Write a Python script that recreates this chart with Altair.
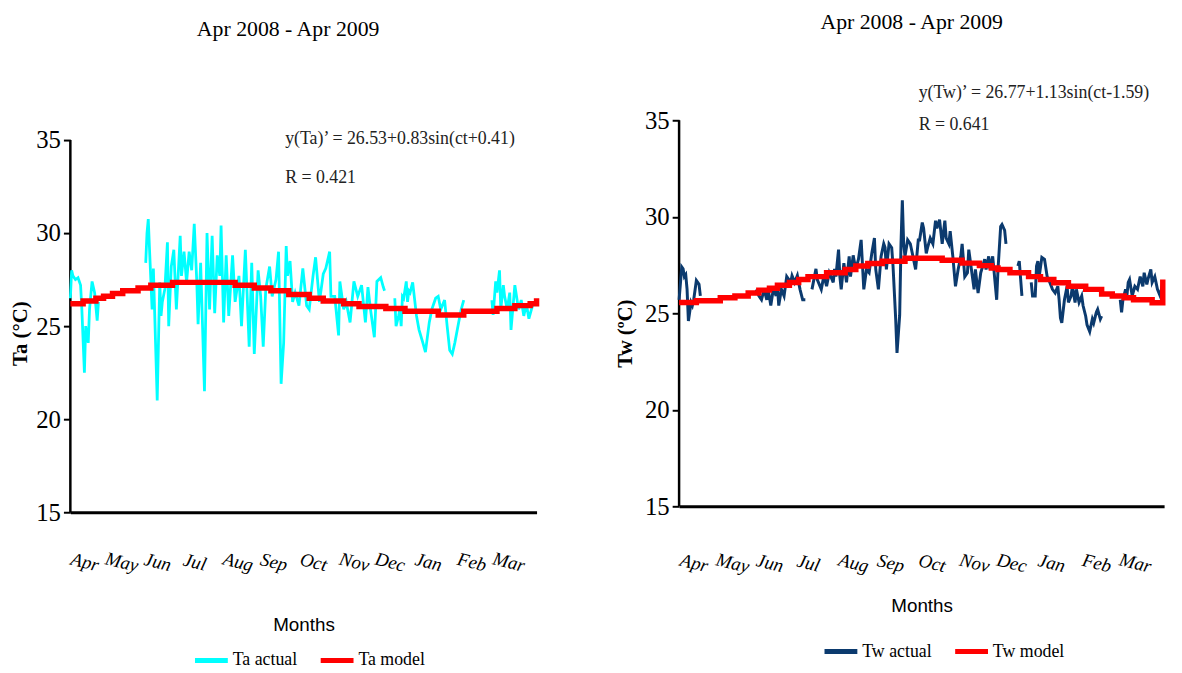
import altair as alt
import pandas as pd

# ---------------- data ----------------
months = ["Apr", "May", "Jun", "Jul", "Aug", "Sep", "Oct", "Nov", "Dec", "Jan", "Feb", "Mar"]
month_tick_days = [11, 40, 68, 97, 131, 159, 190, 222, 250, 280, 314, 343]
y_ticks = [15, 20, 25, 30, 35]

# Air temperature (Ta), day index from 1 Apr 2008; None = missing record
ta_days = [0, 1, 2, 4, 6, 8, 9, 11, 12, 14, 15, 17, 19, 21, 22, 23,
           59, 60, 61, 62, 63, 64, 65, 68, 70, 71, 72, 74, 76, 77, 79, 81, 83, 86, 87, 89, 91, 93, 95, 97,
           99, 100, 102, 105, 107, 109, 111, 113, 115, 117, 118, 120, 122, 124, 127, 129, 132, 134, 137,
           140, 142, 144, 147, 149, 151, 153, 156, 158, 161, 163, 165, 167, 169, 170, 172, 174, 176, 179,
           182, 185, 187, 190, 192, 195, 198, 200, 203, 204, 207, 210, 211, 214, 216, 219, 222, 225, 228,
           231, 233, 235, 238, 240, 243, 245, 246, 247,
           254, 255, 257, 258, 259, 260, 261, 263, 264, 265, 266, 268, 271, 273, 276, 278, 281, 283, 286,
           288, 290, 293, 295, 297, 299, 301, 304, 306, 308, 309,
           330, 331, 333, 334, 336, 337, 339, 340, 342, 344, 345, 348, 350, 351, 353, 355, 357, 359, 361, 363]
ta_vals = [26.5, 28.0, 27.7, 27.5, 27.6, 27.2, 25.9, 22.5, 25.0, 24.1, 25.9, 27.4, 26.8, 25.3, 26.3, None,
           28.4, 30.0, 30.75, 29.1, 27.5, 25.9, 28.1, 21.0, 27.35, 25.55, 26.3, 27.0, 29.5, 25.0, 28.2, 29.1, 25.9, 29.85, 27.7, 29.0, 27.35, 29.0, 28.0, 30.5,
           27.35, 25.1, 28.4, 21.5, 30.0, 25.9, 29.85, 25.7, 28.8, 27.7, 30.4, 25.2, 28.8, 25.55, 28.8, 26.3, 27.7, 25.0, 29.1,
           23.9, 28.4, 23.5, 28.0, 26.6, 23.9, 27.0, 28.2, 26.6, 27.5, 29.0, 21.9, 24.1, 29.3, 27.7, 28.5, 26.3, 26.8, 26.1,
           28.1, 26.1, 25.9, 27.7, 28.7, 26.3, 27.8, 28.1, 29.0, 26.6, 26.6, 24.5, 27.4, 25.9, 26.3, 25.2, 27.4, 26.6, 27.2,
           25.2, 27.1, 25.9, 24.4, 27.4, 27.6, 27.1, 26.9, None,
           26.5, 25.0, 25.55, 25.9, 25.0, 26.6, 26.5, 27.4, 26.3, 26.9, 26.8, 27.35, 25.55, 24.8, 24.1, 23.6, 25.2, 25.9, 26.5,
           26.6, 25.9, 26.4, 25.0, 23.7, 23.5, 24.1, 25.2, 25.9, 26.4, None,
           26.4, 25.6, 27.4, 26.8, 28.0, 25.9, 27.2, 26.6, 25.9, 26.8, 24.8, 27.2, 26.3, 25.9, 26.4, 25.55, 26.2, 25.4, 25.9, 26.3]

ta_model_days = [0, 10, 20, 26, 33, 41, 53, 63, 80, 129, 144, 157, 171, 187, 198, 214, 226, 247, 262, 288, 308, 334, 348, 360, 365]
ta_model_vals = [26.2, 26.35, 26.5, 26.6, 26.75, 26.9, 27.05, 27.2, 27.35, 27.2, 27.05, 26.9, 26.7, 26.5, 26.35, 26.2,
                 26.05, 25.95, 25.8, 25.6, 25.8, 25.95, 26.1, 26.2, 26.5]

# Water temperature (Tw)
tw_days = [0, 2, 3, 4, 5, 6, 7, 9, 10, 11, 13, 14, 15, 16, 17,
           58, 60, 62, 64, 66, 67, 69, 71, 73, 74, 75, 77, 79, 81, 84, 85, 87, 89, 91, 93, 95, 96,
           100, 103, 104, 107, 109, 111, 113, 116, 117, 118, 120, 121, 122, 124, 126, 128, 129, 131, 133, 135,
           137, 139, 141, 143, 145, 147, 148, 150, 152, 154, 155, 156, 158, 160, 161, 163, 164, 166, 167, 168,
           169, 170, 172, 174, 176, 178, 180, 181, 183, 184, 186, 187, 189, 191, 193, 194, 196, 198, 200, 201,
           203, 204, 206, 208, 210, 212, 213, 215, 217, 218, 220, 222, 223, 225, 227, 230, 231, 233, 234, 236,
           239, 240, 242, 243, 245, 246, 247,
           255, 256, 258, 260,
           265, 266, 268, 269, 270, 271, 273, 275, 277, 279, 281, 283, 285, 286, 287, 288, 290, 292, 293, 295,
           296, 298, 299, 301, 303, 304, 306, 307, 309, 311, 312, 314, 315, 317, 318, 319,
           332, 333, 334, 336, 337, 338, 339, 341, 343, 345, 347, 349, 350, 352, 353, 355, 356, 358, 360, 362, 364]
tw_vals = [25.7, 27.4, 27.3, 26.9, 27.0, 26.24, 24.6, 25.56, 25.4, 25.7, 26.7, 26.6, 26.5, 25.9, None,
           26.24, 25.9, 25.7, 26.24, 25.7, 26.24, 25.4, 26.3, 25.9, 26.4, 25.4, 26.24, 25.9, 26.9, 26.6, 26.95, 26.6, 26.95, 26.24, 25.7, 25.7, None,
           26.24, 27.3, 26.75, 26.24, 26.95, 26.4, 27.1, 26.6, 27.3, 26.9, 28.3, 26.9, 26.24, 27.6, 26.6, 27.95, 26.9, 28.0, 27.27, 27.8,
           28.8, 26.24, 27.27, 27.1, 28.1, 28.9, 27.27, 26.24, 27.95, 28.6, 28.4, 27.27, 28.6, 28.4, 27.45, 24.7, 22.95, 24.9, 28.6, 30.86,
           28.6, 27.95, 28.8, 28.6, 27.95, 27.27, 28.8, 28.8, 29.7, 29.4, 28.1, 28.4, 28.9, 28.6, 29.8, 29.4, 29.85, 28.6, 29.8, 28.9,
           28.6, 29.25, 27.95, 26.4, 27.27, 27.95, 28.6, 26.9, 27.1, 28.3, 27.27, 26.24, 27.27, 26.05, 27.1, 27.8, 27.27, 27.95, 27.27, 27.95,
           25.7, 27.27, 29.5, 29.6, 29.3, 28.6, None,
           27.45, 27.7, 25.9, None,
           26.6, 25.9, 25.9, 27.45, 27.7, 26.9, 27.9, 27.8, 26.9, 26.6, 26.24, 26.05, 26.4, 25.7, 24.75, 24.5, 25.7, 26.4, 25.56, 25.9,
           26.4, 25.56, 26.24, 25.56, 25.9, 25.4, 24.85, 24.4, 24.05, 24.7, 24.5, 25.05, 25.2, 24.7, 24.85, None,
           25.7, 25.05, 25.7, 26.24, 25.9, 26.6, 26.75, 25.9, 26.4, 26.24, 26.9, 26.4, 27.1, 26.5, 26.8, 27.27, 26.6, 26.9, 26.24, 25.9, 26.6]

tw_model_days = [0, 13, 31, 42, 52, 60, 68, 74, 83, 90, 97, 111, 125, 133, 142, 153, 170, 198, 213, 226, 235, 240,
                 249, 263, 272, 282, 293, 306, 318, 326, 335, 342, 356, 364]
tw_model_vals = [25.56, 25.65, 25.8, 25.9, 26.05, 26.2, 26.3, 26.45, 26.6, 26.75, 26.9, 27.1, 27.27, 27.45, 27.58, 27.7,
                 27.85, 27.75, 27.6, 27.47, 27.35, 27.27, 27.1, 26.9, 26.75, 26.58, 26.4, 26.24, 26.0, 25.9, 25.8, 25.7,
                 25.55, 26.75]

period_title = "Apr 2008 - Apr 2009"
ta_equation = "y(Ta)\u2019 = 26.53+0.83sin(ct+0.41)"
ta_r = "R = 0.421"
tw_equation = "y(Tw)\u2019 = 26.77+1.13sin(ct-1.59)"
tw_r = "R = 0.641"

SERIF = "Liberation Serif"
SANS = "Liberation Sans"

label_expr = "[" + ",".join("'%s'" % m for m in months) + "][indexof([" + \
    ",".join(str(d) for d in month_tick_days) + "], datum.value)]"


def panel(actual_days, actual_vals, model_days, model_vals, names, colors, ytitle,
          eq, r, width, height, ydomain, title_pos, eq_pos, r_pos, legend_pos,
          ytitle_pos, xtitle_y, xlabel_pad, actual_width):
    df_actual = pd.DataFrame({"day": actual_days, "temp": actual_vals, "series": names[0]})
    df_model = pd.DataFrame({"day": model_days, "temp": model_vals, "series": names[1]})

    color = alt.Color(
        "series:N",
        scale=alt.Scale(domain=names, range=colors),
        legend=alt.Legend(
            title=None, orient="none", legendX=legend_pos[0], legendY=legend_pos[1],
            direction="horizontal", symbolType="stroke", symbolStrokeWidth=5,
            symbolSize=1100, labelFont=SERIF, labelFontSize=18, labelColor="black",
            columnPadding=12, labelOffset=2, labelLimit=0, padding=0,
        ),
    )
    x = alt.X(
        "day:Q",
        scale=alt.Scale(domain=[0, 365], nice=False, zero=False),
        axis=alt.Axis(
            values=month_tick_days, labelExpr=label_expr, title="Months",
            grid=False, ticks=False, tickSize=0, domain=True, domainColor="black",
            domainWidth=3, labelFont=SERIF, labelFontStyle="italic", labelFontSize=19,
            labelAngle=14, labelAlign="center", labelBaseline="middle",
            labelPadding=xlabel_pad, labelColor="black", labelOverlap=False,
            titleFont=SANS, titleFontSize=19, titleFontWeight="normal", titleColor="black",
            titleY=xtitle_y, titleBaseline="middle",
        ),
    )
    y = alt.Y(
        "temp:Q",
        scale=alt.Scale(domain=ydomain, nice=False, zero=False),
        axis=alt.Axis(
            values=y_ticks, title=ytitle, grid=False, domain=False,
            tickSize=7, tickWidth=2, tickColor="black", labelFont=SERIF,
            labelFontSize=25, labelColor="black", labelPadding=3,
            titleFont=SERIF, titleFontSize=21, titleFontWeight="bold", titleColor="black",
            titleX=ytitle_pos[0], titleY=ytitle_pos[1], titleAngle=-90,
            titleAlign="center", titleBaseline="middle",
        ),
    )

    actual = alt.Chart(df_actual).mark_line(strokeWidth=actual_width).encode(x=x, y=y, color=color)
    model = alt.Chart(df_model).mark_line(strokeWidth=5.5, interpolate="step-after").encode(
        x=x, y=y, color=color)
    yline = alt.Chart(pd.DataFrame({"a": [0]})).mark_rule(color="black", strokeWidth=2.5).encode(
        x=alt.value(0), y=alt.datum(35), y2=alt.datum(15))

    texts = pd.DataFrame({"t": [period_title]})
    title = alt.Chart(texts).mark_text(font=SERIF, fontSize=22, color="black", align="center",
                                       baseline="middle").encode(
        x=alt.value(title_pos[0]), y=alt.value(title_pos[1]), text="t:N")
    eq_text = alt.Chart(pd.DataFrame({"t": [eq]})).mark_text(
        font=SERIF, fontSize=18, color="#222222", align="left", baseline="middle").encode(
        x=alt.value(eq_pos[0]), y=alt.value(eq_pos[1]), text="t:N")
    r_text = alt.Chart(pd.DataFrame({"t": [r]})).mark_text(
        font=SERIF, fontSize=18, color="#222222", align="left", baseline="middle").encode(
        x=alt.value(r_pos[0]), y=alt.value(r_pos[1]), text="t:N")

    return alt.layer(yline, actual, model, title, eq_text, r_text).properties(
        width=width, height=height)


left = panel(ta_days, ta_vals, ta_model_days, ta_model_vals,
             ["Ta actual", "Ta model"], ["#00FFFF", "#FF0000"], "Ta (\u00b0C)",
             ta_equation, ta_r, 471, 396, [15, 36.06],
             title_pos=(220, -92), eq_pos=(217, 19), r_pos=(217, 58),
             legend_pos=(123, 526), ytitle_pos=(-50, 215), xtitle_y=113, xlabel_pad=50,
             actual_width=2.8)

right = panel(tw_days, tw_vals, tw_model_days, tw_model_vals,
              ["Tw actual", "Tw model"], ["#0B3A6E", "#FF0000"], "Tw (\u00baC)",
              tw_equation, tw_r, 490, 390, [15, 35],
              title_pos=(235, -99), eq_pos=(242, -28), r_pos=(242, 5),
              legend_pos=(144, 517), ytitle_pos=(-54, 215), xtitle_y=100, xlabel_pad=57,
              actual_width=3)

chart = alt.hconcat(left, right, spacing=68).resolve_scale(
    color="independent", x="independent", y="independent"
).properties(
    padding={"left": 2, "top": 0, "right": 0, "bottom": 0},
    background="white",
).configure_view(stroke=None)

chart.save("out.html", embed_options={"renderer": "svg", "actions": False})
